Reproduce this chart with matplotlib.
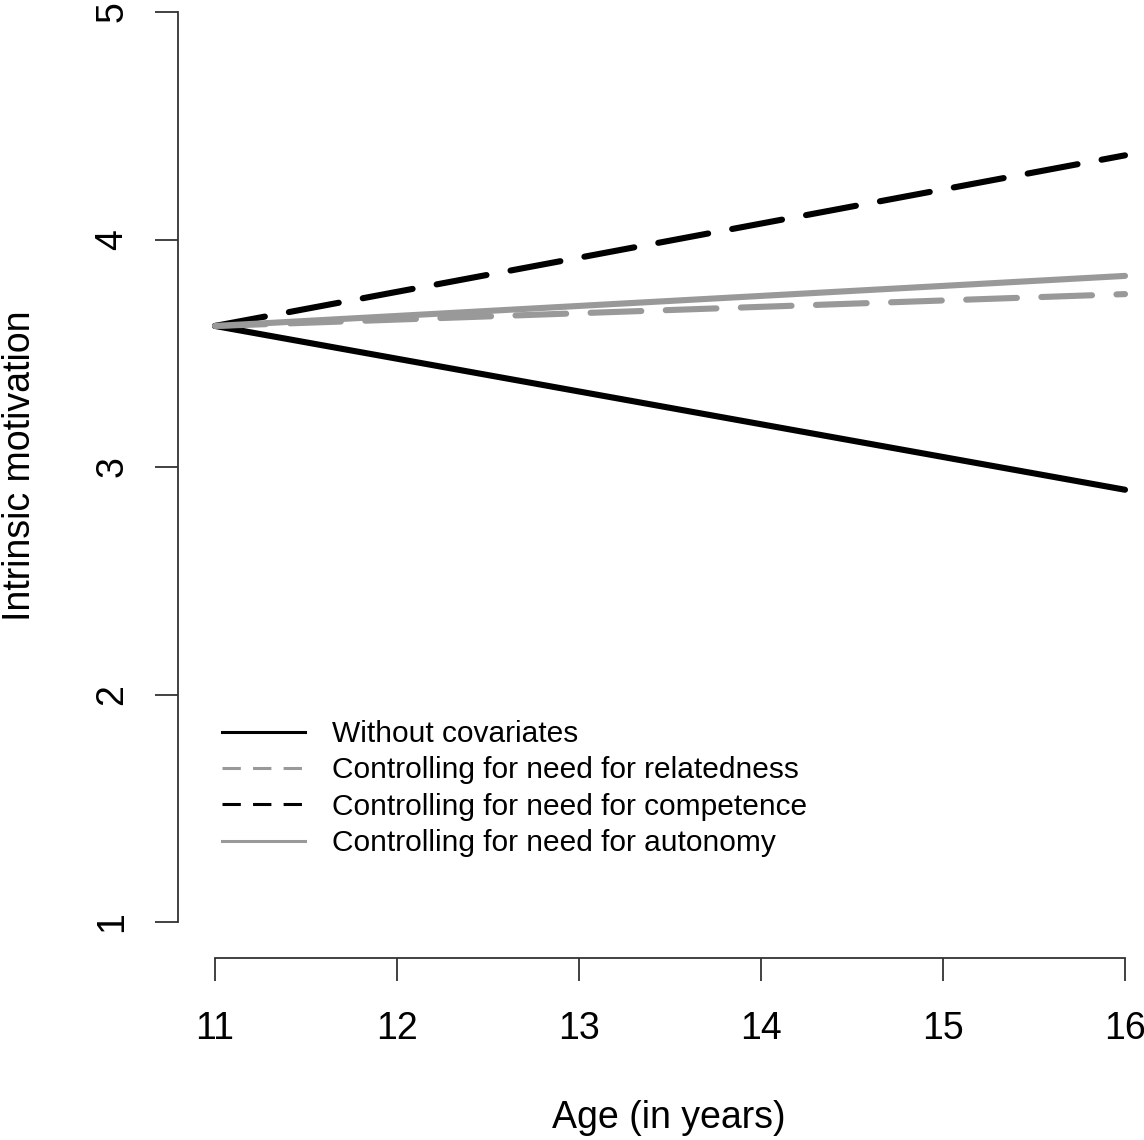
import matplotlib
matplotlib.use('Agg')
import matplotlib.pyplot as plt
from matplotlib.lines import Line2D

# data: predicted intrinsic motivation at age 11 and 16
ages = [11, 16]
without_cov = [3.62, 2.90]
relatedness = [3.62, 3.76]
competence = [3.62, 4.37]
autonomy = [3.62, 3.84]

legend_labels = ['Without covariates',
                 'Controlling for need for relatedness',
                 'Controlling for need for competence',
                 'Controlling for need for autonomy']

x_ticks = [11, 12, 13, 14, 15, 16]
y_ticks = [1, 2, 3, 4, 5]

GRAY = '#999999'


def main():
    plt.rcParams['font.family'] = ['Liberation Sans', 'DejaVu Sans']
    fig = plt.figure(figsize=(11.44, 11.40), dpi=100)

    # axes placed so that the R-style detached axes land where they are in the reference
    W, H = 1144, 1140
    x0_px, y0_px = 178, 958
    px_x = 182.0   # pixels per year
    px_y = 227.5   # pixels per unit of motivation
    xmin = 11 - (215 - x0_px) / px_x
    ymin = 1 - (y0_px - 922) / px_y
    xmax, ymax = 16.2, 5.05
    ax = fig.add_axes([x0_px / W, (H - y0_px) / H,
                       (xmax - xmin) * px_x / W, (ymax - ymin) * px_y / H])
    ax.set_xlim(xmin, xmax)
    ax.set_ylim(ymin, ymax)

    lw = 4.4
    dash = (8.3, 4.0)
    ax.plot(ages, without_cov, color='black', lw=lw, solid_capstyle='round')
    ax.plot(ages, relatedness, color=GRAY, lw=lw, dashes=dash, dash_capstyle='round')
    ax.plot(ages, competence, color='black', lw=lw, dashes=dash, dash_capstyle='round')
    ax.plot(ages, autonomy, color=GRAY, lw=lw, solid_capstyle='round')

    for side in ['top', 'right']:
        ax.spines[side].set_visible(False)
    ax.spines['left'].set_bounds(1, 5)
    ax.spines['bottom'].set_bounds(11, 16)
    for side in ['left', 'bottom']:
        ax.spines[side].set_color('#333333')
        ax.spines[side].set_linewidth(1.3)

    ax.set_xticks(x_ticks)
    ax.set_yticks(y_ticks)
    ax.tick_params(axis='both', length=16.5, width=1.3, color='#333333',
                   labelsize=27)
    ax.tick_params(axis='x', pad=22)
    ax.tick_params(axis='y', labelrotation=90, pad=18)
    for lab in ax.get_yticklabels():
        lab.set_va('center')

    fig.text(20 / W, 1 - 466 / H, 'Intrinsic motivation', rotation=90,
             ha='center', va='center', fontsize=27)
    fig.text(669 / W, 1 - 1118 / H, 'Age (in years)',
             ha='center', va='center', fontsize=27)

    handles = [
        Line2D([], [], color='black', lw=2.2),
        Line2D([], [], color=GRAY, lw=2.2, dashes=(6, 4)),
        Line2D([], [], color='black', lw=2.2, dashes=(6, 4)),
        Line2D([], [], color=GRAY, lw=2.2),
    ]
    ax.legend(handles, legend_labels, loc='upper left',
              bbox_to_anchor=(222 / W, 1 - 720 / H), bbox_transform=fig.transFigure,
              frameon=False, fontsize=21.5, handlelength=2.78, handletextpad=0.9,
              labelspacing=0.28, borderpad=0, borderaxespad=0)

    fig.savefig('out.png', dpi=100)


if __name__ == "__main__":
    main()
